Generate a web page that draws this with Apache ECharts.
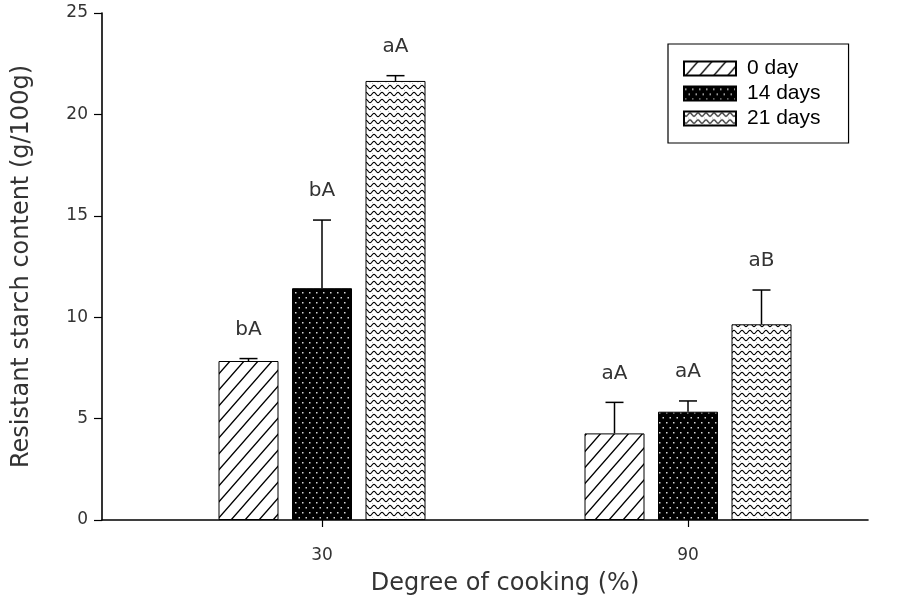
<!DOCTYPE html>
<html>
<head>
<meta charset="utf-8">
<script src="https://cdn.jsdelivr.net/npm/echarts@6/dist/echarts.min.js"></script>
<style>
html,body{margin:0;padding:0;background:#fff;}
#chart{width:898px;height:601px;}
</style>
</head>
<body>
<div id="chart"></div>
<script>
// ---- data ----
const categories = ['30', '90'];
const seriesNames = ['0 day', '14 days', '21 days'];
const day0 = [7.84, 4.27];
const day14 = [11.43, 5.34];
const day21 = [21.65, 9.65];
const err0 = [0.12, 1.53];
const err14 = [3.36, 0.53];
const err21 = [0.26, 1.69];
const sig0 = ['bA', 'aA'];
const sig14 = ['bA', 'aA'];
const sig21 = ['aA', 'aB'];
const yTicks = [0, 5, 10, 15, 20, 25];

// ---- patterns ----
function makeTile(w, h, draw) {
  const c = document.createElement('canvas');
  c.width = w; c.height = h;
  const ctx = c.getContext('2d');
  draw(ctx, w, h);
  return c;
}
const hatch = makeTile(14, 16, (ctx, w, h) => {
  ctx.fillStyle = '#fff'; ctx.fillRect(0, 0, w, h);
  ctx.strokeStyle = '#000'; ctx.lineWidth = 1.4;
  ctx.beginPath();
  ctx.moveTo(-w / 8, h + h / 8); ctx.lineTo(w + w / 8, -h / 8);
  ctx.moveTo(-w / 4, h / 4); ctx.lineTo(w / 4, -h / 4);
  ctx.moveTo(w - w / 4, h + h / 4); ctx.lineTo(w + w / 4, h - h / 4);
  ctx.stroke();
});
const dots = makeTile(7, 10, (ctx, w, h) => {
  ctx.fillStyle = '#000'; ctx.fillRect(0, 0, w, h);
  ctx.fillStyle = '#d8d8d8';
  ctx.fillRect(1, 2, 1.5, 1.5);
  ctx.fillRect(4.5, 7, 1.5, 1.5);
});
const waves = makeTile(8, 7, (ctx, w, h) => {
  ctx.fillStyle = '#fff'; ctx.fillRect(0, 0, w, h);
  ctx.fillStyle = '#bbb';
  ctx.fillRect(4, 6, 1, 1);
  ctx.strokeStyle = '#000'; ctx.lineWidth = 1.1;
  ctx.beginPath();
  for (let x = -1; x <= w + 1; x += 0.5) {
    const y = 3 + 1.7 * Math.sin(2 * Math.PI * x / w);
    if (x === -1) ctx.moveTo(x, y); else ctx.lineTo(x, y);
  }
  ctx.stroke();
});
const patterns = [hatch, dots, waves];

const values = [day0, day14, day21];
const errs = [err0, err14, err21];
const sigs = [sig0, sig14, sig21];

const BAR_W = 60, BAR_GAP = 0.225;
const axisFont = 'DejaVu Sans';

const series = [];
seriesNames.forEach((name, i) => {
  series.push({
    name: name,
    type: 'bar',
    xAxisIndex: 1, yAxisIndex: 1,
    barWidth: BAR_W,
    barGap: (BAR_GAP * 100) + '%',
    data: values[i],
    itemStyle: {
      color: { image: patterns[i], repeat: 'repeat' },
      borderColor: '#000',
      borderWidth: 1
    },
    z: 2
  });
});
seriesNames.forEach((name, i) => {
  const data = categories.map((c, k) => [k, values[i][k], errs[i][k], sigs[i][k]]);
  series.push({
    name: name + ' err',
    type: 'custom',
    xAxisIndex: 1, yAxisIndex: 1,
    z: 3,
    data: data,
    renderItem: function (params, api) {
      const off = (i - 1) * BAR_W * (1 + BAR_GAP);
      const top = api.coord([api.value(0), api.value(1) + api.value(2)]);
      const base = api.coord([api.value(0), api.value(1)]);
      const x = top[0] + off;
      return {
        type: 'group',
        children: [
          { type: 'line', shape: { x1: x, y1: base[1], x2: x, y2: top[1] },
            style: { stroke: '#000', lineWidth: 1.5 } },
          { type: 'line', shape: { x1: x - 9, y1: top[1], x2: x + 9, y2: top[1] },
            style: { stroke: '#000', lineWidth: 1.5 } },
          { type: 'text', x: x, y: top[1] - 19,
            style: { text: data[params.dataIndex][3], fill: '#333',
              font: '20px "' + axisFont + '"', align: 'center', verticalAlign: 'bottom' } }
        ]
      };
    }
  });
});

const chart = echarts.init(document.getElementById('chart'), null, { renderer: 'canvas' });
chart.setOption({
  animation: false,
  backgroundColor: '#fff',
  grid: [
    { left: 102, right: 30, top: 13, bottom: 81, containLabel: false },
    { left: 139, width: 732, top: 13, bottom: 81, containLabel: false }
  ],
  legend: {
    data: seriesNames,
    orient: 'vertical',
    left: 668, top: 44,
    itemWidth: 52, itemHeight: 14, itemGap: 4,
    icon: 'rect',
    padding: [14, 28, 14, 15],
    borderColor: '#000', borderWidth: 1.2,
    textStyle: { fontFamily: 'Liberation Sans', fontSize: 21, color: '#000', lineHeight: 21, padding: [0, 0, 0, 6] }
  },
  xAxis: [
    { type: 'value', gridIndex: 0, min: 0, max: 1,
      axisLine: { show: true, onZero: false, lineStyle: { color: '#000', width: 1.6 } },
      axisTick: { show: false }, axisLabel: { show: false }, splitLine: { show: false } },
    { type: 'category', gridIndex: 1, data: categories,
      name: 'Degree of cooking (%)', nameLocation: 'middle', nameGap: 52,
      nameTextStyle: { fontFamily: axisFont, fontSize: 24, color: '#333' },
      axisLine: { show: false },
      axisTick: { show: true, alignWithLabel: true, length: 7, lineStyle: { color: '#000', width: 1.2 } },
      axisLabel: { margin: 27, fontFamily: axisFont, fontSize: 17, color: '#333' },
      splitLine: { show: false } }
  ],
  yAxis: [
    { type: 'value', gridIndex: 0, min: 0, max: 25, interval: 5,
      name: 'Resistant starch content (g/100g)', nameLocation: 'middle', nameGap: 68,
      nameTextStyle: { fontFamily: axisFont, fontSize: 24, color: '#333' },
      axisLine: { show: true, lineStyle: { color: '#000', width: 1.6 } },
      axisTick: { show: true, length: 8, lineStyle: { color: '#000', width: 1.2 } },
      axisLabel: { margin: 14, fontFamily: axisFont, fontSize: 17, color: '#333',
        formatter: v => (yTicks.indexOf(v) >= 0 ? String(v) : '') },
      splitLine: { show: false } },
    { type: 'value', gridIndex: 1, min: 0, max: 25, interval: 5, show: false }
  ],
  series: series
});
</script>
</body>
</html>
